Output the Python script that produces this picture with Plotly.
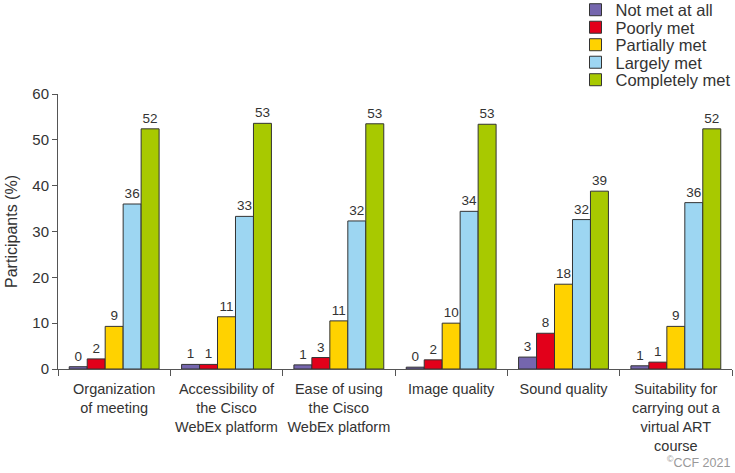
import plotly.graph_objects as go

categories = [
    "Organization<br>of meeting",
    "Accessibility of<br>the Cisco<br>WebEx platform",
    "Ease of using<br>the Cisco<br>WebEx platform",
    "Image quality",
    "Sound quality",
    "Suitability for<br>carrying out a<br>virtual ART<br>course",
]
series_names = ["Not met at all", "Poorly met", "Partially met", "Largely met", "Completely met"]
not_met = [0.5, 1.0, 0.9, 0.4, 2.6, 0.7]
poorly = [2.2, 1.0, 2.5, 2.0, 7.8, 1.5]
partially = [9.3, 11.4, 10.5, 10.0, 18.5, 9.3]
largely = [36.0, 33.3, 32.3, 34.4, 32.6, 36.3]
completely = [52.4, 53.6, 53.5, 53.4, 38.8, 52.4]
values = [not_met, poorly, partially, largely, completely]
labels_not_met = ["0", "1", "1", "0", "3", "1"]
labels_poorly = ["2", "1", "3", "2", "8", "1"]
labels_partially = ["9", "11", "11", "10", "18", "9"]
labels_largely = ["36", "33", "32", "34", "32", "36"]
labels_completely = ["52", "53", "53", "53", "39", "52"]
labels = [labels_not_met, labels_poorly, labels_partially, labels_largely, labels_completely]
colors = ["#7566AE", "#E2001A", "#FFD200", "#9DD6F2", "#A8C900"]

FONT = "Liberation Sans, Arial, sans-serif"
W, H = 735, 473
legend_centers_px = [10, 27.5, 45, 62.5, 80]

fig = go.Figure()
layout_legends = {}
for i, (name, vals, labs, col) in enumerate(zip(series_names, values, labels, colors)):
    lname = "legend" if i == 0 else f"legend{i + 1}"
    fig.add_trace(go.Bar(
        name=name, x=categories, y=vals, text=labs, legend=lname,
        textposition="outside", cliponaxis=False,
        textfont=dict(size=13.5, color="#333333", family=FONT),
        marker=dict(color=col, line=dict(color="#333333", width=1)),
    ))
    layout_legends[lname] = dict(
        xref="container", yref="container", x=0.783, y=1 - legend_centers_px[i] / H,
        xanchor="left", yanchor="middle",
        font=dict(size=16.5, color="#333333", family=FONT),
        itemwidth=30, bgcolor="rgba(0,0,0,0)",
    )

fig.update_layout(
    width=W, height=H,
    margin=dict(l=58, r=3, t=94, b=104, autoexpand=False),
    plot_bgcolor="white", paper_bgcolor="white",
    barmode="group", bargap=0.2, bargroupgap=0,
    font=dict(family=FONT, color="#333333", size=14),
    showlegend=True,
    **layout_legends,
)
fig.update_xaxes(showline=True, linecolor="#555555", linewidth=1, automargin=False,
                 ticks="outside", tickson="boundaries", ticklen=6, tickcolor="#555555",
                 ticklabelstandoff=7,
                 tickangle=0, tickfont=dict(size=14.5, color="#333333"), showgrid=False)
fig.update_yaxes(range=[0, 60], dtick=10, showline=True, linecolor="#555555", linewidth=1,
                 automargin=False,
                 ticks="outside", ticklen=5, tickcolor="#555555", showgrid=False, zeroline=False,
                 tickfont=dict(size=15, color="#333333"),
                 title=dict(text="Participants (%)", font=dict(size=16, color="#333333"), standoff=10))
fig.add_annotation(text="<sup>©</sup>CCF 2021", xref="paper", yref="paper", x=1.0, y=-0.375,
                   xanchor="right", yanchor="bottom", showarrow=False,
                   font=dict(size=12.5, color="#999999", family=FONT))
fig.write_html("out.html", config={"displayModeBar": False},
               post_script="document.body.style.margin='0';")
